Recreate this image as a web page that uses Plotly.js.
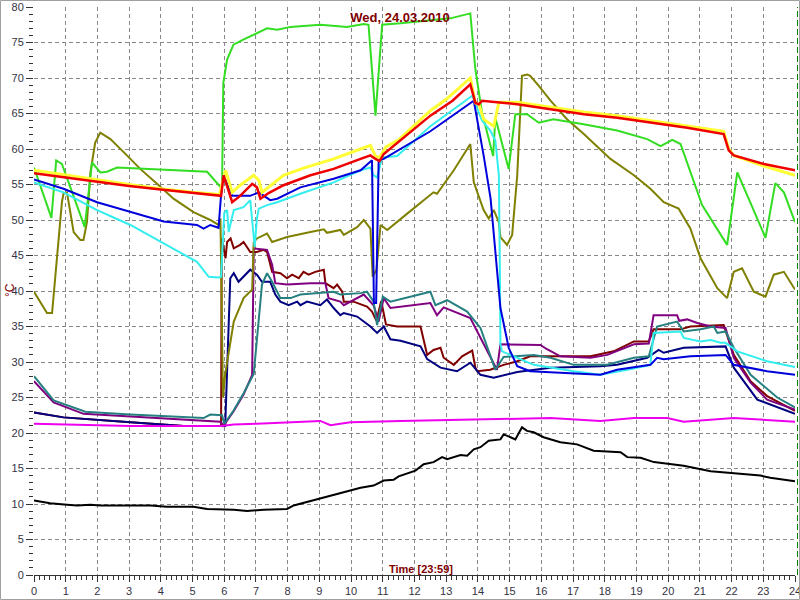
<!DOCTYPE html>
<html>
<head>
<meta charset="utf-8">
<script src="https://cdn.plot.ly/plotly-3.0.1.min.js"></script>
<style>
  html, body { margin: 0; padding: 0; background: #fff; }
  #chart { width: 800px; height: 600px; }
</style>
</head>
<body>
<div id="chart"></div>
<script>
// ---- Data (hours of day, temperature °C) ----
const chartTitle = "Wed, 24.03.2010";
const xLabel = "Time [23:59]";
const yLabel = "°C";

const yellowX = [0,1,2,3,4,5,5.85,6.04,6.25,6.5,6.93,7.09,7.19,7.5,7.87,8.5,9.45,10.3,10.61,10.77,10.9,11.1,11.5,12.5,13,13.76,13.92,14.03,14.18,14.5,14.66,15.24,16.29,17.34,18.39,19.44,20.6,21.75,21.91,22.07,23.02,24];
const yellowY = [57,56.3,55.6,55,54.4,53.9,53.6,57,53.9,54.9,56.3,55.6,53.9,55,56.3,57.3,58.6,60,60.5,59,58.8,60.3,61.3,65.4,67,70,66.5,66.3,64.2,63.2,66.6,66.6,65.9,65.2,64.7,64,63.3,62.5,60,59.1,57.6,56.3];

const redX = [0,1,2,3,4,5,5.9,5.98,6.25,6.5,6.88,7.03,7.14,7.4,7.87,8.72,9.45,10.3,10.61,10.77,10.9,11.03,12.5,13.2,13.76,13.92,14.03,14.13,15.24,16.29,17.34,18.39,19.44,20.6,21.75,21.91,22.07,23.02,24];
const redY = [56.6,56,55.3,54.8,54.3,53.8,53.4,56.3,52.5,53.4,55.1,54.6,53,53.8,54.9,56.3,57.2,58.6,59.1,58.6,58.3,59.3,64.7,66.8,69.1,66.5,66.3,66.8,66.3,65.6,64.9,64.4,63.7,63,62.1,59.8,59.1,57.9,57];

const greenX = [0,0.55,0.7,0.88,1.6,1.83,2.09,2.3,2.62,3.5,4.5,5.46,5.93,5.97,6.09,6.29,6.6,6.92,7.35,7.67,8.09,9.03,9.87,10.4,10.55,10.77,10.98,11.56,12.19,13.13,13.76,13.92,14.13,14.48,14.55,14.97,15.18,15.55,15.92,16.38,17.33,18.39,19.34,19.76,20.13,20.39,21.07,21.86,22.18,23.07,23.38,23.65,24];
const greenY = [57.4,50.3,58.4,57.9,49,58.1,56.7,56.8,57.4,57.2,57,56.8,54.4,69.3,72.6,74.7,75.4,76.1,77,76.8,77.2,77.5,77.2,77.6,77.5,64.7,77.5,77.7,78,78.4,79.1,71.2,65.1,59,64.4,57.2,64.9,64.9,63.7,64.2,63.5,62.6,61.4,60.4,61.3,60.7,52.1,46.5,56.7,47.5,55.2,53.9,49.7];

const oliveX = [0,0.41,0.57,0.88,0.93,1.04,1.25,1.46,1.56,1.67,1.78,1.93,2.09,2.41,2.93,3.35,3.88,4.4,5.03,5.56,5.82,5.88,5.96,6.03,6.3,6.61,6.88,6.93,7.03,7.35,7.51,7.98,8.72,9.14,9.24,9.66,9.77,10.19,10.4,10.61,10.68,10.8,10.93,11.14,11.77,12.6,12.71,13.24,13.76,13.87,14.18,14.34,14.5,14.66,14.71,14.92,15.08,15.24,15.39,15.55,15.65,15.92,16.29,16.81,17.34,18.18,18.92,19.44,19.86,20.33,20.7,21.02,21.55,21.86,22.07,22.33,22.7,23.07,23.33,23.65,24];
const oliveY = [39.9,36.9,36.9,52.5,53.7,53.9,48.3,47.2,47.2,49.7,56.7,60.9,62.3,61.4,59.1,57.2,55.1,53,51.1,50,49.3,50.2,25,28.3,35.7,39,40.2,46.9,47.4,48.1,46.9,47.6,48.3,48.7,48.2,48.6,47.9,49,50,48.8,42,43,49.3,48.6,50.9,53.9,53.7,57,60.7,55.3,51.4,50.2,51.4,49.7,47.6,46.5,47.9,56.3,70.3,70.5,70.3,68.9,66.8,64.2,62.1,58.6,56.3,54.4,52.5,51.6,48.8,44.6,40.4,39,42.7,43.2,39.9,39.2,42.3,42.7,40.2];

const cyanX = [0,0.93,1.99,3.04,4.09,5.14,5.51,5.82,5.9,6.0,6.09,6.14,6.3,6.61,6.82,6.88,6.96,7.03,7.09,7.35,7.67,8.4,9.45,10.3,10.61,10.71,10.82,10.98,11.45,12.5,13.82,14.13,14.39,14.55,14.66,14.69,14.71,14.76,15.76,17.02,17.86,18.71,19.44,19.54,20.39,20.49,21.02,21.34,21.65,21.81,22.18,23.12,24];
const cyanY = [55.3,53.9,51.4,49.3,46.7,44.1,42,41.9,42,51,51.4,48.3,51.4,51.8,52.8,50,46.2,50.2,51.6,52.1,52.5,53.7,55.3,57,57.4,56.3,56,58.8,59,63.2,67.5,64,62.6,61.2,56.3,44.1,32.5,31.5,29.6,28.7,28.2,28.9,29.6,34.1,34.3,33.4,32.9,33.1,32.7,32.7,31.5,30.1,29.3];

const blueX = [0,0.93,1.99,3.04,4.09,5.14,5.35,5.56,5.82,5.93,6.04,6.25,6.82,7.09,7.45,7.67,8.4,9.45,10.3,10.66,10.72,10.79,10.87,11.03,12.5,13.87,14.18,14.4,14.71,14.97,15.24,15.65,16.6,17.86,18.39,19.44,19.65,19.86,20.7,21.81,22.07,23.12,24];
const blueY = [55.7,54.4,52.5,51.1,49.8,49.3,48.8,49.3,48.9,55.3,55.6,53.4,53.4,53.9,52.8,53,54.6,55.8,57,58.4,38.3,38.3,58.4,58.6,62.5,66.8,59.1,53,37.6,32,29.4,28.7,28.5,28.2,28.9,29.6,30.6,30.4,30.8,31,29.6,28.7,28.2];

const maroonX = [0,0.93,3.04,4.72,5.9,5.92,6.04,6.09,6.2,6.3,6.5,6.61,6.82,7.03,7.24,7.35,7.51,7.77,7.98,8.14,8.35,8.5,8.66,8.87,9.14,9.19,9.45,9.56,9.72,9.77,10.08,10.5,10.66,10.8,10.95,11.1,11.45,12.19,12.4,12.6,12.82,12.92,13.24,13.5,13.82,13.92,13.98,14.39,14.81,15.24,15.65,16.29,17.55,18.28,18.92,19.39,19.54,20.39,20.7,21.75,21.86,22.07,22.6,23.12,24];
const maroonY = [22.9,22.2,21.5,21,21,47.4,44.6,46.9,47.4,46,46.5,46.9,45.5,45.5,45.8,45.5,42.7,42.5,41.8,42.3,41.8,42.7,42.3,42.7,43,41.1,40.4,40.9,39.9,38.5,38.5,37.8,37.1,35.8,38.6,35.3,35,35,31,31.7,32,30.6,29.6,30.8,31.6,29.2,28.7,28.9,29.6,30.1,30.8,30.8,30.8,31.5,32.9,32.9,34.6,34.6,35,35.2,33.8,31,27.3,25.2,23.1];

const navyX = [0,0.93,3.04,4.72,5.93,6.03,6.19,6.3,6.45,6.72,6.82,7.03,7.19,7.45,7.61,7.77,8.03,8.3,8.4,8.61,8.82,9.03,9.24,9.45,9.66,9.77,10.19,10.61,10.82,11.03,11.24,11.56,12.19,12.4,12.82,13.34,13.76,14.08,14.5,15.24,16.29,17.86,18.39,19.34,19.7,19.86,20.49,21.81,22.07,22.81,24];
const navyY = [22.9,22.2,21.5,21,21,21,41.8,42.5,41.3,42.5,43,42.3,41.3,41.3,39.5,38.5,38,38.5,38,38.5,38.2,38,38.8,37.6,36.6,36.9,36.4,35,34.1,35,33.2,33,32.2,30.4,29.2,28.7,29.9,28.2,27.8,28.6,29.2,29.4,29.6,30.6,31.7,31.3,32,32.2,29.2,24.7,22.7];

const purpleX = [0,0.62,1.56,3.14,5.25,5.88,5.98,6.3,6.61,6.88,6.93,7.35,7.51,7.61,7.98,8.72,9.19,9.29,9.66,9.77,10.4,10.71,10.87,11.03,11.24,11.87,12.5,12.71,12.92,13.76,14.08,14.6,14.71,15.97,16.18,16.6,17.55,18.08,18.92,19.39,19.54,20.28,20.35,20.6,20.92,21.34,21.81,22.07,22.6,23.12,24];
const purpleY = [27.3,24.3,22.7,22.3,21.8,21.6,21,23.1,25.4,28.2,46,45.8,43.7,41.1,40.9,41.1,41.1,39,38.5,38,39.5,38,35.7,39,37.6,38,38.3,36.6,37.7,36.2,33.4,28.9,32.5,32.4,31.8,30.8,30.6,31,32.5,32.6,36.6,36.6,35.8,36,35.5,35,34.8,30.6,27.1,24.7,23.3];

const tealX = [0,0.62,1.62,3.04,5.35,5.56,5.93,6.0,6.3,6.61,6.93,7.19,7.35,7.51,7.77,8.09,8.4,8.93,9.45,9.66,10.3,10.5,10.71,10.82,11.0,11.24,12.5,12.66,13.03,13.66,14.08,14.55,14.81,15.76,16.29,17.02,18.08,18.92,19.39,19.65,20.28,20.49,21.02,21.44,21.55,21.81,22.07,22.6,23.44,24];
const tealY = [28,24.6,23,22.6,22.1,22.6,22.5,21.3,23.2,25.6,28.3,40.9,42.5,41.3,39,39,39.5,39.7,39.9,39.5,39.7,39.9,38.5,35.2,39.2,38.5,39.9,38,38.7,37.1,34.8,28.9,30.7,31,30.6,29.6,29.6,30.6,30.8,35,35.7,34.3,34.6,35,34.1,34.3,32,28.2,25,23.6];

const magentaX = [0,3.04,5.9,6.3,7.03,8.4,9.03,9.35,9.98,11.56,14.71,16.29,17.86,18.92,19.97,20.49,22.07,24];
const magentaY = [21.3,21,21,21.2,21.3,21.6,21.7,21.1,21.5,21.7,21.9,22.1,21.7,22.1,22.1,21.6,22.1,21.6];

const blackX = [0,0.51,1.04,1.36,1.78,2.09,3.67,4.2,5.03,5.46,6.3,6.72,7.24,7.98,8.19,8.61,9.03,9.45,9.98,10.3,10.71,11.03,11.34,11.5,12.03,12.29,12.6,12.87,13.03,13.45,13.66,13.87,14.08,14.34,14.71,14.81,15.03,15.18,15.39,15.55,15.76,16.07,16.6,17.13,17.65,18.5,18.71,19.13,19.55,20.49,21.34,22.28,22.91,23.22,24];
const blackY = [10.5,10.1,9.9,9.8,9.9,9.8,9.8,9.6,9.6,9.3,9.2,9,9.2,9.3,9.8,10.3,10.7,11.2,11.9,12.3,12.6,13.3,13.4,13.9,14.7,15.6,15.9,16.6,16.3,16.9,16.8,17.7,18,18.9,19.1,19.8,19.4,19.1,20.8,20.3,20.1,19.4,18.7,18.4,17.5,17.3,16.6,16.5,15.9,15.4,14.6,14.2,14,13.7,13.2];

// ---- Traces ----
function line(x, y, color, width) {
  return { x: x, y: y, type: 'scatter', mode: 'lines',
           line: { color: color, width: width || 2 }, hoverinfo: 'skip' };
}
const traces = [
  line(maroonX, maroonY, '#800000'),
  line(navyX, navyY, '#000080'),
  line(purpleX, purpleY, '#800080'),
  line(tealX, tealY, '#268080'),
  line(oliveX, oliveY, '#808000'),
  line(greenX, greenY, '#33dd22'),
  line(cyanX, cyanY, '#33eeee'),
  line(blueX, blueY, '#0000dd'),
  line(yellowX, yellowY, '#ffff33', 3),
  line(redX, redY, '#ee0000', 2.5),
  line(magentaX, magentaY, '#ee00ee'),
  line(blackX, blackY, '#000000')
];

const PL = 34, PR = 5, PT = 7, PB = 25, W = 800, H = 600;
const pw = W - PL - PR, ph = H - PT - PB;
const px = v => (v - PL) / pw;
const py = v => (H - PB - v) / ph;

const tickFont = { family: 'Liberation Sans, Arial, sans-serif', size: 11, color: '#333344' };

const layout = {
  width: W, height: H,
  margin: { l: PL, r: PR, t: PT, b: PB, pad: 0 },
  paper_bgcolor: '#ffffff', plot_bgcolor: '#ffffff',
  showlegend: false,
  title: { text: '<b>' + chartTitle + '</b>', x: 0.5, xref: 'container', y: 1 - 17 / H, yref: 'container',
           xanchor: 'center', yanchor: 'middle',
           font: { family: 'Liberation Sans, Arial, sans-serif', size: 13, color: '#800000' } },
  xaxis: {
    range: [0, 24], tick0: 0, dtick: 1, ticks: 'outside', ticklen: 6, tickcolor: '#333',
    showgrid: true, gridcolor: '#888888', griddash: '4px,3px', gridwidth: 1,
    showline: true, linecolor: '#333', linewidth: 1, zeroline: false,
    tickfont: tickFont, fixedrange: true, ticklabeloverflow: 'allow',
    minor: { dtick: 1 / 6, ticks: 'outside', ticklen: 4, tickcolor: '#333', showgrid: false }
  },
  yaxis: {
    range: [0, 80], tick0: 0, dtick: 5, ticks: 'outside', ticklen: 7, tickcolor: '#333',
    showgrid: true, gridcolor: '#888888', griddash: '4px,3px', gridwidth: 1,
    showline: false, zeroline: false, tickfont: tickFont, fixedrange: true, ticklabeloverflow: 'allow',
    minor: { dtick: 1, ticks: 'outside', ticklen: 4, tickcolor: '#333', showgrid: false }
  },
  annotations: [
    { text: '<b>' + xLabel + '</b>', xref: 'paper', yref: 'paper', x: px(421), y: py(569),
      xanchor: 'center', yanchor: 'middle', showarrow: false,
      font: { family: 'Liberation Sans, Arial, sans-serif', size: 11, color: '#800000' } },
    { text: yLabel, xref: 'paper', yref: 'paper', x: px(10), y: py(290), textangle: -90,
      xanchor: 'center', yanchor: 'middle', showarrow: false,
      font: { family: 'Liberation Sans, Arial, sans-serif', size: 12, color: '#800000' } }
  ],
  shapes: [
    { type: 'line', xref: 'paper', yref: 'paper', x0: px(797.5), x1: px(797.5), y0: 0, y1: 1,
      line: { color: '#008000', width: 1, dash: '6px,3px' } },
    { type: 'rect', xref: 'paper', yref: 'paper', x0: px(0.5), x1: px(799.5), y0: py(599.5), y1: py(0.5),
      line: { color: '#a0a0a0', width: 1 } }
  ]
};

Plotly.newPlot('chart', traces, layout, { displayModeBar: false, staticPlot: true });
</script>
</body>
</html>
